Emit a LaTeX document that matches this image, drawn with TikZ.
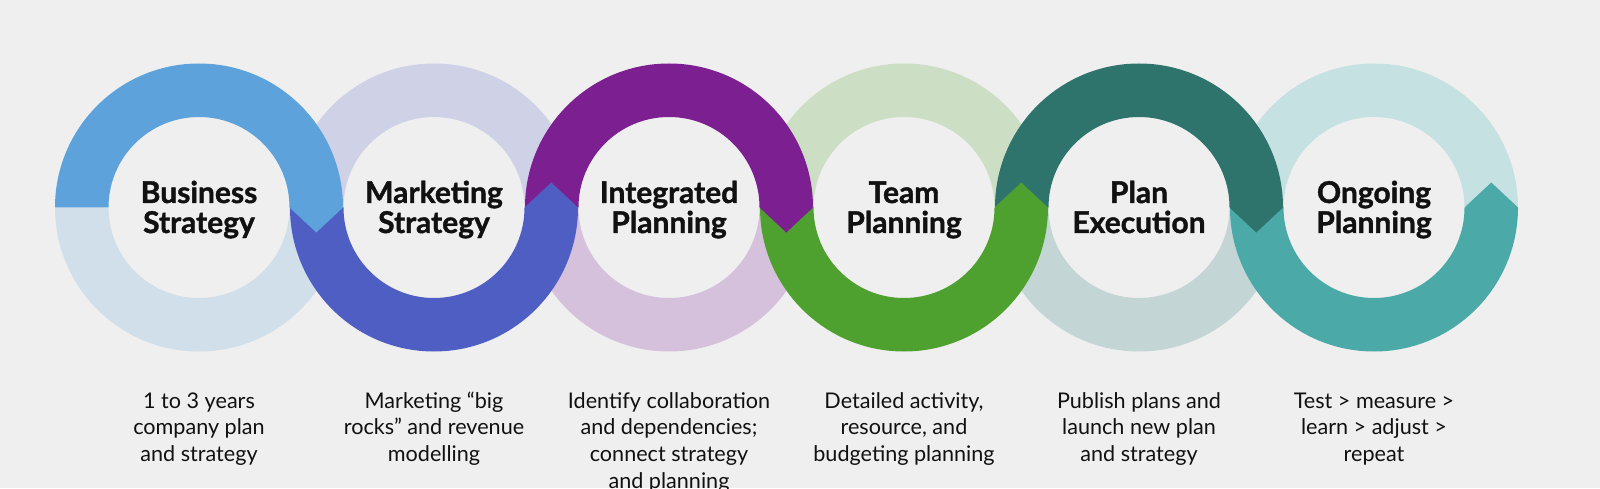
\documentclass[tikz,border=0pt]{standalone}
\usepackage{fontspec}
\setmainfont{Lato}[BoldFeatures={FakeBold=1.3}]
\definecolor{bg}{HTML}{EFEFEF}
\definecolor{txt}{HTML}{111111}
\definecolor{dA}{HTML}{5DA2DB}\definecolor{lA}{HTML}{D0DFEA}
\definecolor{dB}{HTML}{4F5EC3}\definecolor{lB}{HTML}{CFD2E6}
\definecolor{dC}{HTML}{7B1F91}\definecolor{lC}{HTML}{D6C1DD}
\definecolor{dD}{HTML}{4FA12F}\definecolor{lD}{HTML}{CCDFC4}
\definecolor{dE}{HTML}{2F736D}\definecolor{lE}{HTML}{C3D6D5}
\definecolor{dF}{HTML}{4BA9A7}\definecolor{lF}{HTML}{C5E1E1}
\begin{document}
\begin{tikzpicture}[x=1pt,y=1pt,
  title/.style={font=\bfseries\fontsize{30}{30}\selectfont, align=center, text=txt, anchor=base, inner sep=0pt},
  desc/.style={font=\fontsize{21.6}{26.8}\selectfont, align=center, text=txt, anchor=base, inner sep=0pt}]
\useasboundingbox (0,0) rectangle (1600,488);
\clip (0,0) rectangle (1600,488);
\fill[bg] (0,0) rectangle (1600,488);
\def\RR{144}\def\rr{90.5}\def\CY{280.5}\def\TD{25}
% light halves
\foreach \cx/\col/\top in {199/lA/0,434/lB/1,669/lC/0,904/lD/1,1139/lE/0,1374/lF/1}{
  \ifnum\top=1
    \fill[\col] (\cx+\RR,\CY) arc[start angle=0,end angle=180,radius=\RR] -- (\cx-\rr,\CY) arc[start angle=180,end angle=0,radius=\rr] -- cycle;
  \else
    \fill[\col] (\cx-\RR,\CY) arc[start angle=180,end angle=360,radius=\RR] -- (\cx+\rr,\CY) arc[start angle=0,end angle=-180,radius=\rr] -- cycle;
  \fi
}
% dark halves with arrow tips, last first
\foreach \cx/\col/\top in {1374/dF/0,1139/dE/1,904/dD/0,669/dC/1,434/dB/0,199/dA/1}{
  \ifnum\top=1
    \fill[\col] (\cx-\RR,\CY) arc[start angle=180,end angle=0,radius=\RR] -- (\cx+\RR/2+\rr/2,\CY-\TD) -- (\cx+\rr,\CY) arc[start angle=0,end angle=180,radius=\rr] -- cycle;
  \else
    \fill[\col] (\cx-\RR,\CY) arc[start angle=180,end angle=360,radius=\RR] -- (\cx+\RR/2+\rr/2,\CY+\TD) -- (\cx+\rr,\CY) arc[start angle=0,end angle=-180,radius=\rr] -- cycle;
  \fi
}
% titles (base anchor = baseline of last line)
\node[title] (t1) at (199,255) {Business\\Strategy};
\node[title] (t2) at (434,255) {Marketing\\Strategy};
\node[title] (t3) at (669,255) {Integrated\\Planning};
\node[title] (t4) at (904,255) {Team\\Planning};
\node[title] (t5) at (1139,255) {Plan\\Execution};
\node[title] (t6) at (1374,255) {Ongoing\\Planning};
% descriptions
\node[desc] (d1) at (199,26.4) {1 to 3 years\\company plan\\and strategy};
\node[desc] (d2) at (434,26.4) {Marketing “big\\rocks” and revenue\\modelling};
\node[desc] (d3) at (669,-0.4) {Identify collaboration\\and dependencies;\\connect strategy\\and planning};
\node[desc] (d4) at (904,26.4) {Detailed activity,\\resource, and\\budgeting planning};
\node[desc] (d5) at (1139,26.4) {Publish plans and\\launch new plan\\and strategy};
\node[desc] (d6) at (1374,26.4) {Test > measure >\\learn > adjust >\\repeat};
\end{tikzpicture}
\end{document}
